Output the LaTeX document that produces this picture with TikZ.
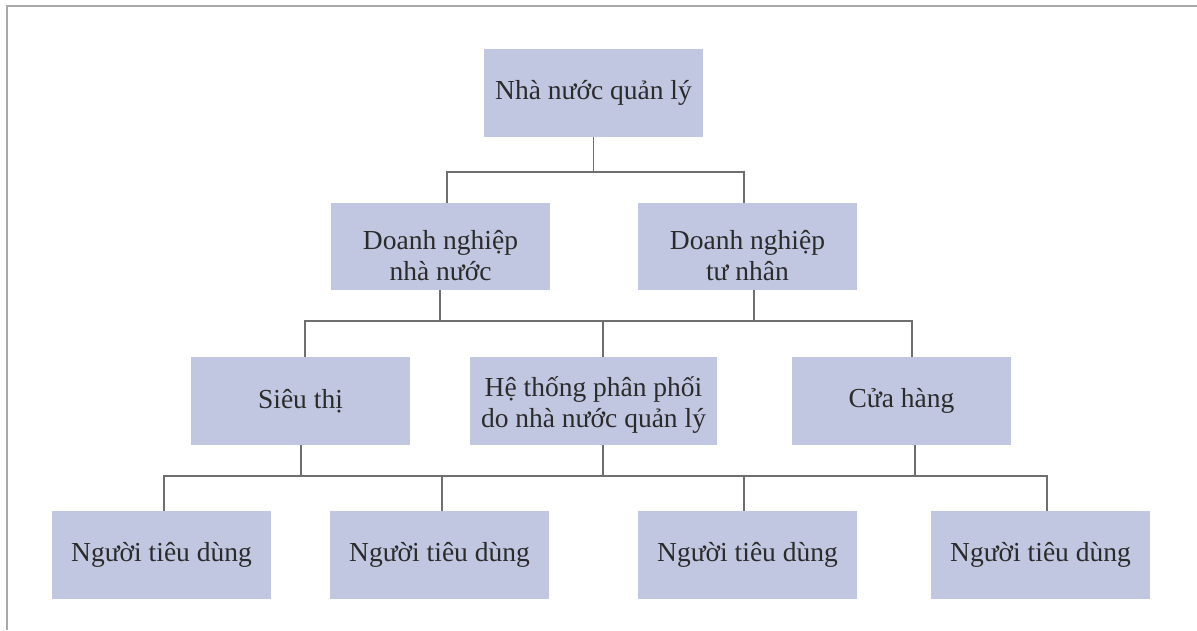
\documentclass[tikz,border=0pt]{standalone}
\usepackage{fontspec}
\setmainfont{Liberation Serif}
\definecolor{boxfill}{HTML}{C2C7E1}
\definecolor{linecol}{HTML}{6E6E6E}
\definecolor{framecol}{HTML}{A8A8A8}
\definecolor{textcol}{HTML}{2B2B2B}
\newcommand{\twolines}[3]{\raisebox{#1}[\height][\depth]{\begin{tabular}{@{}c@{}}#2\\#3\end{tabular}}}
\tikzset{
  box/.style={fill=boxfill, draw=none, minimum width=219pt, minimum height=88pt,
    inner sep=0pt, align=center, text=textcol, font=\fontsize{27.5}{31}\selectfont},
  conn/.style={draw=linecol, line width=1.4pt},
}
\begin{document}
\begin{tikzpicture}[x=1pt,y=-1pt]
\useasboundingbox (0,0) rectangle (1197,630);
\fill[white] (0,0) rectangle (1197,630);
\draw[framecol, line width=1.5pt] (7,630) -- (7,6) -- (1197,6);

\node[box] (top) at (593.5,93) {Nhà nước quản lý};
\node[box, minimum height=87pt] (dnn) at (440.5,246.5) {\twolines{-12pt}{Doanh nghiệp}{nhà nước}};
\node[box, minimum height=87pt] (dnt) at (747.5,246.5) {\twolines{-12pt}{Doanh nghiệp}{tư nhân}};
\node[box] (st) at (300.5,401) {Siêu thị};
\node[box, minimum width=247pt] (ht) at (593.5,401) {\twolines{-5pt}{Hệ thống phân phối}{do nhà nước quản lý}};
\node[box] (ch) at (901.5,401) {Cửa hàng};
\node[box] (n1) at (161.5,555) {Người tiêu dùng};
\node[box] (n2) at (439.5,555) {Người tiêu dùng};
\node[box] (n3) at (747.5,555) {Người tiêu dùng};
\node[box] (n4) at (1040.5,555) {Người tiêu dùng};

% level 1 -> 2
\coordinate (a1) at (447,172);
\coordinate (a2) at (744,172);
\draw[conn] (top.south) -- (top.south |- a1);
\draw[conn] (dnn.north -| a1) -- (a1) -- (a2) -- (dnt.north -| a2);

% level 2 -> 3
\coordinate (b1) at (305,321);
\coordinate (b2) at (912,321);
\coordinate (bm) at (603,321);
\coordinate (bl) at (440,321);
\coordinate (br) at (754,321);
\draw[conn] (dnn.south -| bl) -- (bl);
\draw[conn] (dnt.south -| br) -- (br);
\draw[conn] (st.north -| b1) -- (b1) -- (b2) -- (ch.north -| b2);
\draw[conn] (bm) -- (ht.north -| bm);

% level 3 -> 4
\coordinate (c1) at (164,476);
\coordinate (c2) at (442,476);
\coordinate (c3) at (744,476);
\coordinate (c4) at (1047,476);
\coordinate (cs) at (301,476);
\coordinate (cm) at (603,476);
\coordinate (cc) at (915,476);
\draw[conn] (st.south -| cs) -- (cs);
\draw[conn] (ht.south -| cm) -- (cm);
\draw[conn] (ch.south -| cc) -- (cc);
\draw[conn] (n1.north -| c1) -- (c1) -- (c4) -- (n4.north -| c4);
\draw[conn] (c2) -- (n2.north -| c2);
\draw[conn] (c3) -- (n3.north -| c3);
\end{tikzpicture}
\end{document}
